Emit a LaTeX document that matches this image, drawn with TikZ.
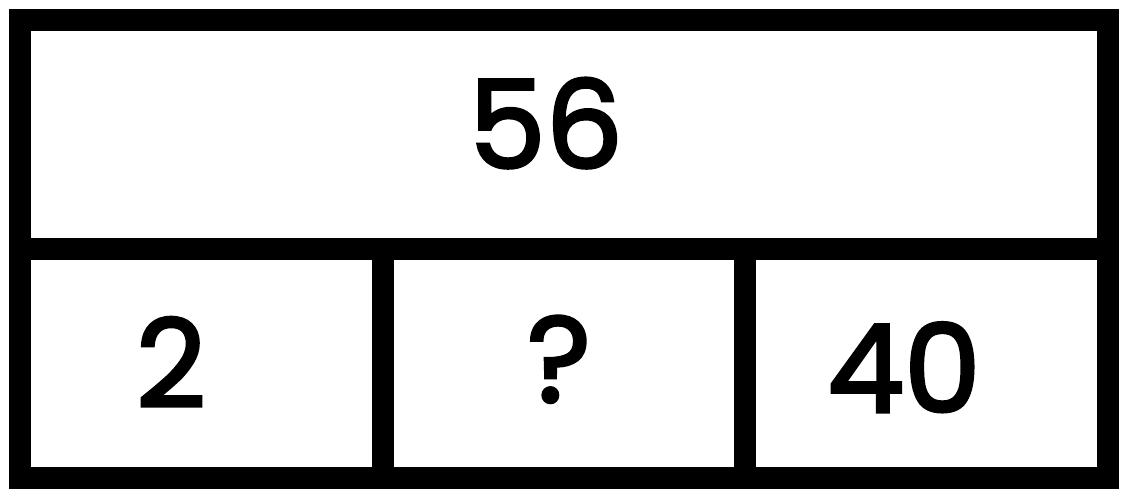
\documentclass[tikz,border=0pt]{standalone}
\usepackage{fontspec}
\setmainfont{Poppins}
\newfontfamily\cifrafont{Poppins}[FakeBold=2.5]
\usepackage{tikz}
\usetikzlibrary{positioning}

\begin{document}
\begin{tikzpicture}[x=1pt, y=-1pt]
        \tikzstyle{bara} = [line width=22pt, line cap=rect]
        \tikzstyle{cifra} = [inner sep=0pt, anchor=base, font=\cifrafont\fontsize{122}{122}\selectfont]

        \useasboundingbox (0,0) rectangle (1129,496);

        % Chenarul si liniile de separare.
        \draw[bara] (20,20) rectangle (1108,478);
        \draw[bara] (20,249) -- (1108,249);
        \draw[bara] (382.5,249) -- (382.5,478);
        \draw[bara] (745,249) -- (745,478);

        % Numerele.
        \node[cifra] (total) at (546,168) {56};
        \foreach \x/\y/\nume/\txt in {171/407/stanga/2, 559/402/mijloc/?, 904/412/dreapta/40}
            \node[cifra] (\nume) at (\x,\y) {\txt};
\end{tikzpicture}
\end{document}
